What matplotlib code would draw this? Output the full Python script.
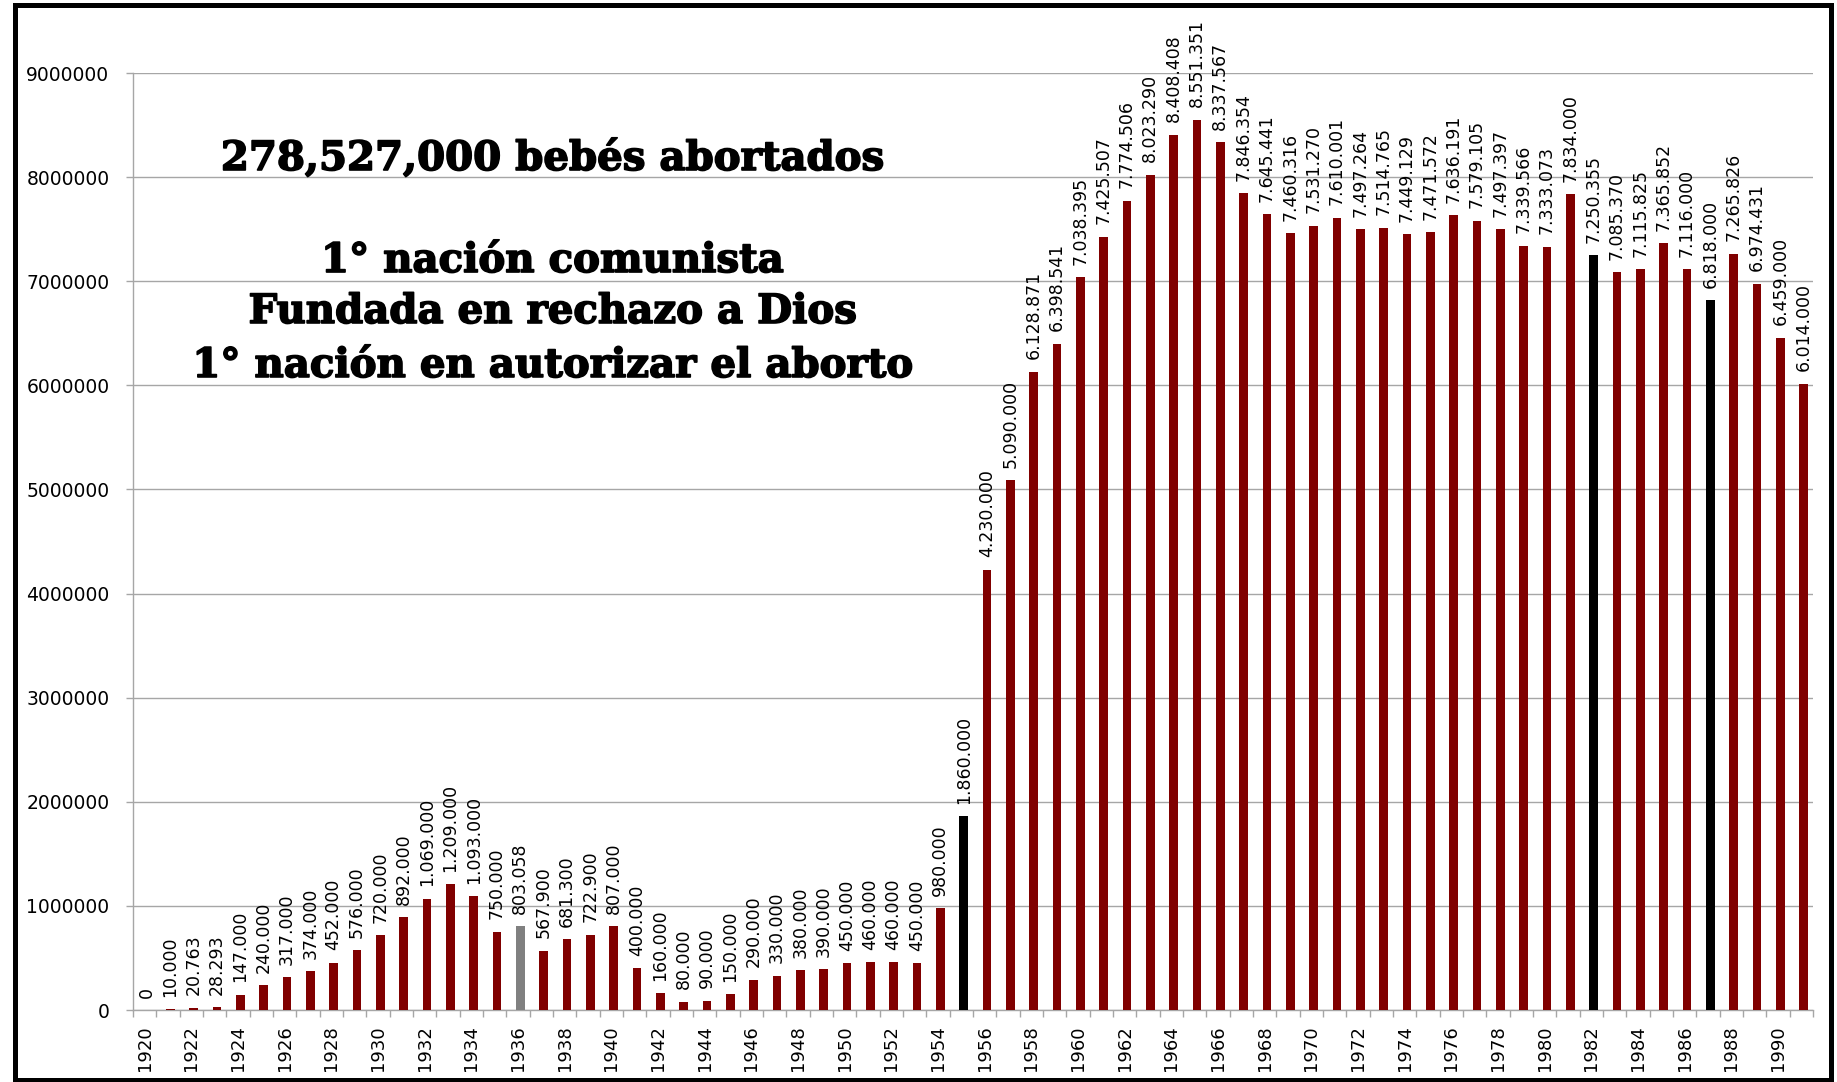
import numpy as np
import matplotlib
matplotlib.use("Agg")
import matplotlib.pyplot as plt
import matplotlib.patheffects as pe
from matplotlib.patches import Rectangle

# --- DATI ---
anni = list(range(1920, 1992))
valori = [
    0, 10000, 20763, 28293, 147000, 240000, 317000, 374000, 452000, 576000,
    720000, 892000, 1069000, 1209000, 1093000, 750000, 803058, 567900, 681300, 722900,
    807000, 400000, 160000, 80000, 90000, 150000, 290000, 330000, 380000, 390000,
    450000, 460000, 460000, 450000, 980000, 1860000, 4230000, 5090000, 6128871, 6398541,
    7038395, 7425507, 7774506, 8023290, 8408408, 8551351, 8337567, 7846354, 7645441, 7460316,
    7531270, 7610001, 7497264, 7514765, 7449129, 7471572, 7636191, 7579105, 7497397, 7339566,
    7333073, 7834000, 7250355, 7085370, 7115825, 7365852, 7116000, 6818000, 7265826, 6974431,
    6459000, 6014000,
]
anni_evidenziati = {1936: "#808080", 1955: "black", 1982: "black", 1987: "black"}
righe_testo = [
    "278,527,000 bebés abortados",
    "1° nación comunista",
    "Fundada en rechazo a Dios",
    "1° nación en autorizar el aborto",
]

COL_BARRA = "#800000"
COL_GRIGLIA = "#a6a6a6"

fig = plt.figure(figsize=(18.37, 10.82), dpi=100)
ax = fig.add_axes([0.0724, 0.0665, 0.9145, 0.866])

x = np.arange(len(anni))
colori = [anni_evidenziati.get(a, COL_BARRA) for a in anni]
# le barre di Excel sono leggermente spostate a destra rispetto al centro categoria
xb = x + 0.1
ax.bar(xb, valori, width=0.38, color=colori, zorder=3)

# etichette dei valori
for xi, v in zip(xb, valori):
    testo = f"{v:,}".replace(",", ".")
    ax.annotate(testo, (xi, v), xytext=(0, 9), textcoords="offset points",
                ha="center", va="bottom", rotation=90, fontsize=12.5,
                annotation_clip=False, zorder=4)

# assi
ax.set_xlim(-0.5, len(anni) - 0.5)
ax.set_ylim(0, 9000000)
ax.set_yticks(np.arange(0, 9000001, 1000000))
ax.set_yticklabels([str(int(t)) for t in np.arange(0, 9000001, 1000000)], fontsize=13.5)
ax.set_xticks(x[::2])
ax.set_xticklabels([str(a) for a in anni[::2]], rotation=90, fontsize=13)
ax.set_xticks(np.arange(-0.5, len(anni), 1), minor=True)
ax.tick_params(axis="x", which="major", length=0, pad=11)
ax.tick_params(axis="x", which="minor", length=5, color=COL_GRIGLIA, width=1.0)
ax.tick_params(axis="y", length=5, color=COL_GRIGLIA, width=1.0, pad=12)

ax.grid(axis="y", color=COL_GRIGLIA, lw=1.0, zorder=0)
for lato in ["top", "right"]:
    ax.spines[lato].set_visible(False)
for lato in ["left", "bottom"]:
    ax.spines[lato].set_color(COL_GRIGLIA)
    ax.spines[lato].set_linewidth(1.0)

# testo descrittivo
basi = [0.8429, 0.7486, 0.7015, 0.6516]
for riga, yb in zip(righe_testo, basi):
    fig.text(0.3005, yb, riga, ha="center", va="baseline",
             fontsize=29, fontweight="bold", family="DejaVu Serif",
             path_effects=[pe.withStroke(linewidth=1.2, foreground="black")])

# cornice
fig.patches.append(Rectangle((0.0079, 0.0023), 0.9888, 0.9935, transform=fig.transFigure,
                             fill=False, lw=3.6, ec="black"))

fig.savefig("out.png", dpi=100)
